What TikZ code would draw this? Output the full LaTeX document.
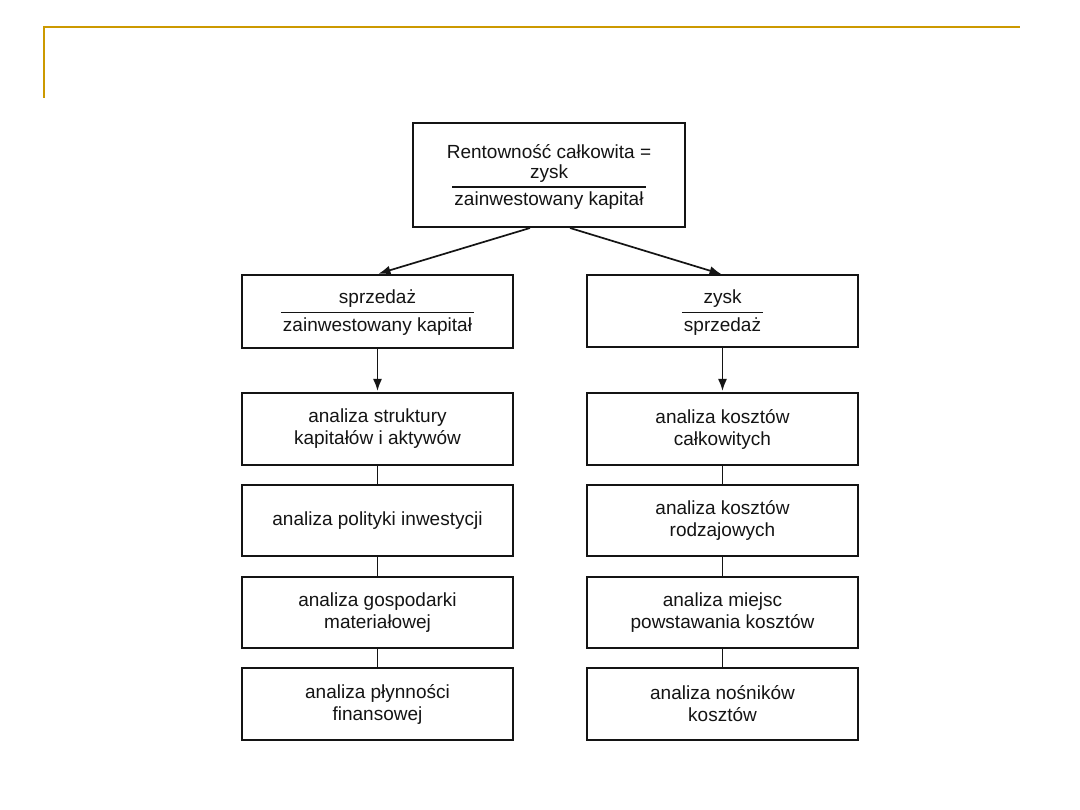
\documentclass[tikz,border=0pt]{standalone}
\usepackage{fontspec}
\setmainfont{Liberation Sans}
\usetikzlibrary{arrows.meta}
\definecolor{gold}{HTML}{CC9900}
\definecolor{ink}{HTML}{141414}
\newcommand{\fracbox}[2]{{\fontsize{19}{25.5}\selectfont\setlength{\arrayrulewidth}{1.8pt}\setlength{\tabcolsep}{2pt}\begin{tabular}[t]{c}#1\\\hline #2\end{tabular}}}
\begin{document}
\begin{tikzpicture}[x=1pt,y=-1pt,
  box/.style={draw=ink,line width=2pt,rectangle,minimum width=271pt,inner sep=0pt,
    align=center,text=ink,font=\fontsize{19}{22}\selectfont},
  link/.style={draw=ink,line width=1.7pt},
  arr/.style={link,-{Latex[length=12pt,width=9pt]},shorten >=1pt}]
\useasboundingbox[fill=white] (0,0) rectangle (1080,810);
% gold frame lines
\draw[gold,line width=2.4pt] (44,98) -- (44,27) -- (1020,27);
% top box
\node[box,minimum width=272pt,minimum height=104pt] (top) at (549,175)
  {\raisebox{-4pt}[\height][\depth]{\fontsize{19}{20}\selectfont\begin{tabular}{@{}c@{}}Rentowność całkowita =\\[-4pt]\fracbox{zysk}{zainwestowany kapitał}\end{tabular}}};
% second level
\node[box,minimum height=73pt] (lmid) at (377.5,311.5)
  {\raisebox{-1pt}[\height][\depth]{\fracbox{sprzedaż}{zainwestowany kapitał}}};
\node[box,minimum height=72pt] (rmid) at (722.5,311.5)
  {\raisebox{-1pt}[\height][\depth]{\fracbox{zysk}{sprzedaż}}};
% left column
\node[box,minimum height=72pt] (l1) at (377.5,429) {analiza struktury\\kapitałów i aktywów};
\node[box,minimum height=71pt] (l2) at (377.5,520.5) {analiza polityki inwestycji};
\node[box,minimum height=71pt] (l3) at (377.5,612.5) {analiza gospodarki\\materiałowej};
\node[box,minimum height=72pt] (l4) at (377.5,704) {analiza płynności\\finansowej};
% right column
\node[box,minimum height=72pt] (r1) at (722.5,429) {analiza kosztów\\całkowitych};
\node[box,minimum height=71pt] (r2) at (722.5,520.5) {analiza kosztów\\rodzajowych};
\node[box,minimum height=71pt] (r3) at (722.5,612.5) {analiza miejsc\\powstawania kosztów};
\node[box,minimum height=72pt] (r4) at (722.5,704) {analiza nośników\\kosztów};
% connectors
\draw[arr] ([xshift=-19pt]top.south) -- (lmid.north);
\draw[arr] ([xshift=21pt]top.south) -- (rmid.north);
\draw[arr] (lmid.south) -- (l1.north);
\draw[arr] (rmid.south) -- (r1.north);
\draw[link] (l1) -- (l2);
\draw[link] (l2) -- (l3);
\draw[link] (l3) -- (l4);
\draw[link] (r1) -- (r2);
\draw[link] (r2) -- (r3);
\draw[link] (r3) -- (r4);
\end{tikzpicture}
\end{document}
